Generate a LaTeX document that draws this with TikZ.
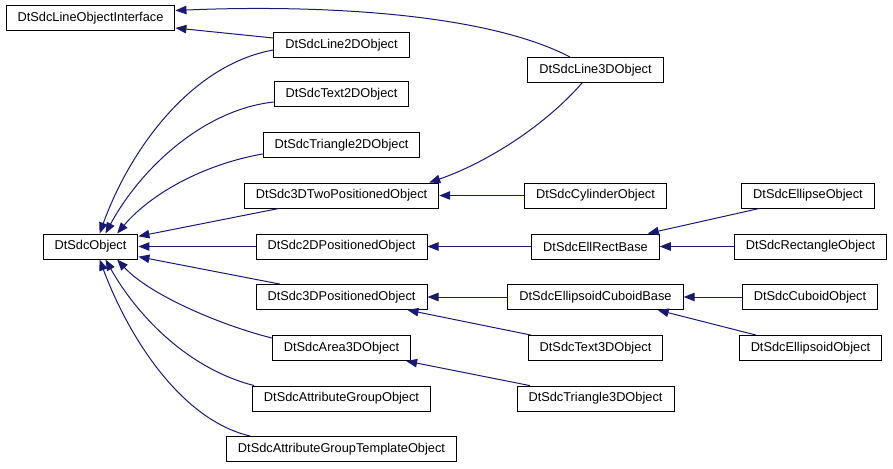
\documentclass[tikz,border=0pt]{standalone}
\usepackage{fontspec}
\setmainfont{Liberation Sans}
\usetikzlibrary{arrows.meta}
\definecolor{edgeblue}{RGB}{25,25,112}

\begin{document}
\begin{tikzpicture}[x=1pt,y=-1pt,line cap=round,
  cls/.style={draw=black,line width=1pt,fill=white,minimum height=25pt,
    inner xsep=11.5pt,inner ysep=0pt,font=\fontsize{12.8}{15}\selectfont},
  edge/.style={draw=edgeblue,line width=1pt,-{Triangle[length=11pt,width=8.5pt]}}]
\useasboundingbox (0,0) rectangle (893,468);
% classes
\node[cls] (loi) at (90.5,18.5) {DtSdcLineObjectInterface};
\node[cls] (obj) at (90.5,246.5) {DtSdcObject};
\node[cls] (line2d) at (341.5,45) {DtSdcLine2DObject};
\node[cls] (text2d) at (341.5,94.5) {DtSdcText2DObject};
\node[cls] (tri2d) at (341.5,145) {DtSdcTriangle2DObject};
\node[cls] (twopos) at (341.5,195.5) {DtSdc3DTwoPositionedObject};
\node[cls] (pos2d) at (341.5,246.5) {DtSdc2DPositionedObject};
\node[cls] (pos3d) at (341.5,297) {DtSdc3DPositionedObject};
\node[cls] (area3d) at (341.5,348) {DtSdcArea3DObject};
\node[cls] (attrgrp) at (341.5,398.5) {DtSdcAttributeGroupObject};
\node[cls] (attrtmpl) at (341.5,449) {DtSdcAttributeGroupTemplateObject};
\node[cls] (line3d) at (595.5,70) {DtSdcLine3DObject};
\node[cls] (cyl) at (595.5,195.5) {DtSdcCylinderObject};
\node[cls] (ellrect) at (595.5,246.5) {DtSdcEllRectBase};
\node[cls] (ellcub) at (595.5,297) {DtSdcEllipsoidCuboidBase};
\node[cls] (text3d) at (595.5,348) {DtSdcText3DObject};
\node[cls] (tri3d) at (595.5,398.5) {DtSdcTriangle3DObject};
\node[cls] (ellipse) at (808,195.5) {DtSdcEllipseObject};
\node[cls] (rect) at (810.5,246.5) {DtSdcRectangleObject};
\node[cls] (cuboid) at (810,297) {DtSdcCuboidObject};
\node[cls] (ellipsoid) at (810.5,348) {DtSdcEllipsoidObject};
% inheritance
\draw[edge] ([yshift=7pt]line2d.west) -- ([yshift=-9.5pt]loi.east);
\draw[edge] ([xshift=-25.5pt]line3d.north) .. controls +(-90,-47) and +(125,-5.5) .. ([yshift=8pt]loi.east);
\draw[edge] ([xshift=-13.5pt]line3d.south) .. controls +(-42,48) and +(50,-17) .. ([xshift=-10pt]twopos.north east);
\draw[edge] ([yshift=-5pt]line2d.west) .. controls +(-83,15) and +(30,-83) .. (obj.55);
\draw[edge] ([yshift=-7.5pt]text2d.west) .. controls +(-72,8) and +(34,-63) .. (obj.41);
\draw[edge] ([yshift=-9pt]tri2d.west) .. controls +(-62,11) and +(32,-38) .. (obj.26);
\draw[edge] ([xshift=35pt]twopos.south west) -- (obj.12.5);
\draw[edge] (pos2d.west) -- (obj.east);
\draw[edge] ([xshift=24pt]pos3d.north west) -- (obj.-12.5);
\draw[edge] ([yshift=10pt]area3d.west) .. controls +(-52,-13) and +(32,35) .. (obj.-26);
\draw[edge] ([xshift=2pt]attrgrp.north west) .. controls +(-63,-16) and +(34,60) .. (obj.-41);
\draw[edge] ([xshift=24pt]attrtmpl.north west) .. controls +(-68,-16) and +(30,80) .. (obj.-55);
\draw[edge] (cyl.west) -- (twopos.east);
\draw[edge] (ellrect.west) -- (pos2d.east);
\draw[edge] ([xshift=18pt]ellipse.south west) -- ([xshift=-12pt]ellrect.north east);
\draw[edge] (rect.west) -- (ellrect.east);
\draw[edge] (ellcub.west) -- (pos3d.east);
\draw[edge] ([xshift=3pt]text3d.north west) -- ([xshift=-20pt]pos3d.south east);
\draw[edge] (cuboid.west) -- (ellcub.east);
\draw[edge] ([xshift=17pt]ellipsoid.north west) -- ([xshift=-26pt]ellcub.south east);
\draw[edge] ([xshift=13pt]tri3d.north west) -- ([xshift=-5pt]area3d.south east);
\end{tikzpicture}
\end{document}
